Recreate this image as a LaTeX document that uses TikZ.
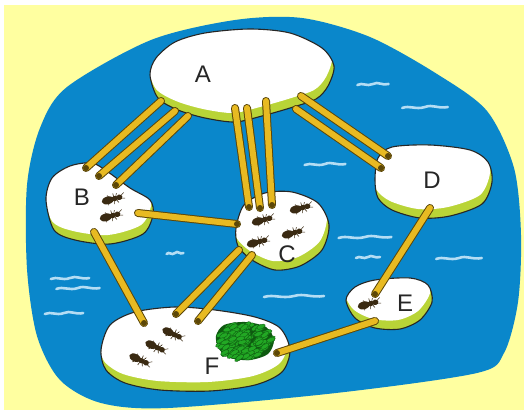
\documentclass[tikz,border=0pt]{standalone}
\usepackage{fontspec}
\setmainfont{Liberation Sans}
\definecolor{sand}{HTML}{FFFFA0}
\definecolor{water}{HTML}{0A87CB}
\definecolor{ripplec}{HTML}{B4DDF4}
\definecolor{grass}{HTML}{B9D437}
\definecolor{stickc}{HTML}{E8BA22}
\definecolor{stickedge}{HTML}{5C4708}
\definecolor{antc}{HTML}{3A2A12}
\definecolor{leaf}{HTML}{22A824}
\definecolor{leafedge}{HTML}{0E5A10}
\begin{document}
\begin{tikzpicture}[x=1pt,y=-1pt,
  outline/.style={draw=black!85, line width=1.1pt},
  label/.style={font=\fontsize{24}{24}\selectfont, text=black!85, inner sep=0pt},
  stick/.style={draw=stickc, line width=6pt, line cap=round,
    preaction={draw=stickedge, line width=8pt, line cap=round}},
  ripple/.pic={\draw[ripplec, line width=2.6pt, line cap=round]
    (-12,0) .. controls (-8,-3) and (-5,2) .. (0,-1) .. controls (4,-4) and (7,1) .. (12,-1);},
  ant/.pic={
    \draw[antc, line width=0.6pt] (-2,0) -- (-5,4) (-2,0) -- (-4,-4) (1,0) -- (0,4.5)
      (1,0) -- (1,-4.5) (2,0) -- (4,4) (2,0) -- (4,-4);
    \fill[antc] (-4.5,0) ellipse (5.2 and 3.2);
    \fill[antc] (1.5,0) ellipse (2.7 and 2.2);
    \fill[antc] (5.5,0) ellipse (2.5 and 2.3);
    \draw[antc, line width=0.5pt] (7,-1) -- (10,-3) (7,1) -- (10,2);}
]
\useasboundingbox (0,0) rectangle (527,414);
\fill[white] (0,0) rectangle (527,414);
\fill[sand] (4,5) rectangle (524,410);

% the lake
\fill[water] plot[smooth cycle] coordinates {(67,87) (151,40) (235,20) (302,18) (370,37)
  (437,74) (487,111) (514,168) (521,235) (518,302) (504,353) (477,373) (336,393)
  (168,408) (101,403) (60,380) (37,336) (27,269) (27,185) (40,128)};

% ripples on the water
\foreach \x/\y/\s in {373/85/1.3, 425/108/1.9, 325/165/1.7, 365/238/2.2, 368/258/1.0,
  459/259/1.9, 70/279/1.6, 78/289/1.8, 64/314/1.6, 175/254/0.7, 294/297/2.5}
  \pic[xscale=\s] at (\x,\y) {ripple};

% islands
\def\islandA{plot[smooth cycle] coordinates {(150,75) (156,58) (175,42) (205,33) (250,29)
  (290,33) (322,48) (334,66) (328,86) (316,99) (290,108) (262,116) (235,122) (205,118)
  (178,110) (158,98)}}
\def\islandB{plot[smooth cycle] coordinates {(46,200) (52,178) (70,166) (92,163) (108,172)
  (130,188) (150,200) (153,215) (143,234) (110,244) (75,240) (54,230)}}
\def\islandC{plot[smooth cycle] coordinates {(236,228) (244,205) (265,193) (292,192)
  (318,203) (329,225) (322,250) (300,266) (275,270) (252,260) (238,246)}}
\def\islandD{plot[smooth cycle] coordinates {(375,180) (378,158) (392,147) (430,145)
  (470,150) (488,162) (492,182) (482,204) (450,216) (420,218) (392,210) (378,198)}}
\def\islandE{plot[smooth cycle] coordinates {(346,300) (355,287) (375,280) (410,278)
  (428,285) (432,302) (420,320) (400,329) (375,328) (355,318)}}
\def\islandF{plot[smooth cycle] coordinates {(101,350) (110,325) (135,312) (175,307)
  (215,310) (255,317) (280,328) (290,350) (282,372) (255,385) (210,391) (160,390)
  (125,383) (106,370)}}
\foreach \isl in {\islandA,\islandB,\islandC,\islandD,\islandE,\islandF}{
  \fill[grass] \isl;
  \begin{scope}
    \clip \isl;
    \fill[white, shift={(-2,-9)}] \isl;
  \end{scope}
  \draw[outline] \isl;
}

% bridges
\foreach \ax/\ay/\bx/\by in {161/101/86/168, 175/111/99/176, 188/116/116/185,
  235/108/249/207, 247/108/260/208, 266/101/272/205,
  301/96/388/156, 296/109/381/168,
  138/213/237/224, 94/232/144/323, 239/250/176/314, 252/255/198/321,
  430/208/375/294, 375/321/277/353}{
  \coordinate (p) at (\ax,\ay);
  \coordinate (q) at (\bx,\by);
  \draw[stick] (p) -- (q);
  \fill[stickedge] (q) circle (3);
}

% ants
\foreach \x/\y/\r in {113/199/15, 111/216/15, 263/220/15, 301/208/15, 293/233/15,
  258/242/15, 369/304/15, 173/334/-25, 156/347/-25, 140/360/-25}
  \pic[rotate=\r, scale=1.2] at (\x,\y) {ant};

% the food pile
\fill[leafedge] plot[smooth cycle] coordinates {(216,336) (224,325) (245,322) (266,327)
  (274,340) (268,354) (250,360) (230,358) (219,349)};
\pgfmathsetseed{11}
\foreach \i in {1,...,150}{
  \pgfmathsetmacro\ang{rnd*360}
  \pgfmathsetmacro\rad{sqrt(rnd)}
  \pgfmathsetmacro\lx{244+28*\rad*cos(\ang)}
  \pgfmathsetmacro\ly{341+18*\rad*sin(\ang)}
  \pgfmathsetmacro\tilt{10+rnd*30}
  \fill[leaf, draw=leafedge, line width=0.35pt, rotate around={\tilt:(\lx,\ly)}]
    (\lx,\ly) ellipse (4.5 and 2.2);
}

% labels
\node[label] (A) at (203,74) {A};
\node[label] (B) at (82,197) {B};
\node[label] (C) at (287,254) {C};
\node[label] (D) at (432,180) {D};
\node[label] (E) at (405,303) {E};
\node[label] (F) at (212,366) {F};
\end{tikzpicture}
\end{document}
